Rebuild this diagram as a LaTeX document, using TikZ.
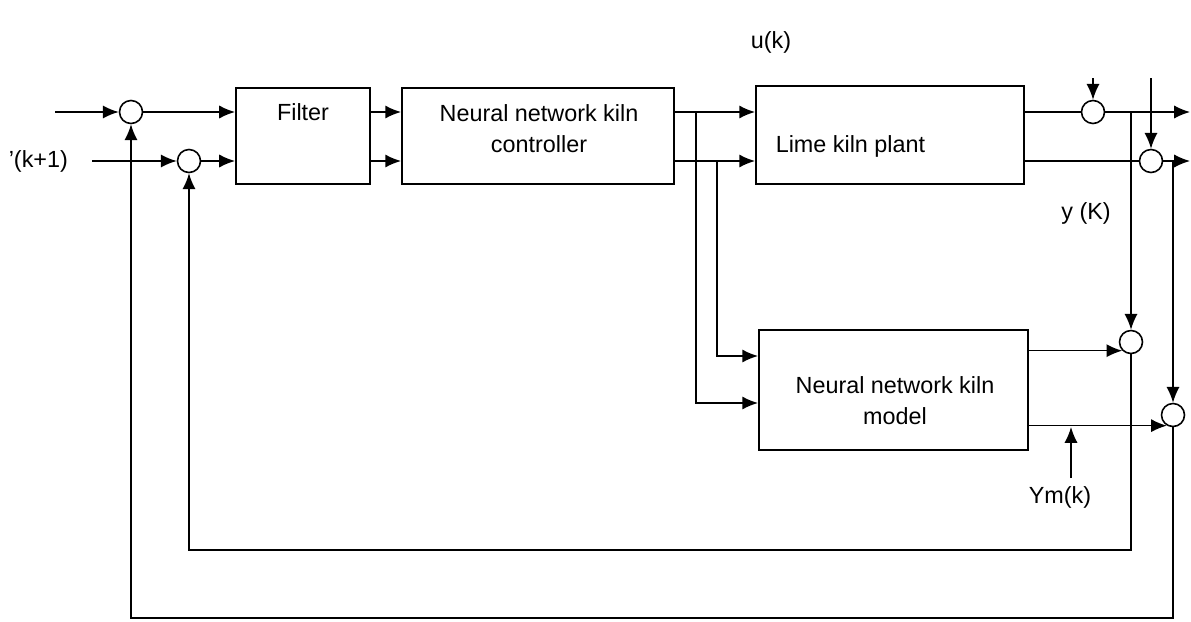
\documentclass[tikz,border=0pt]{standalone}
\usepackage{fontspec}
\setmainfont{Liberation Sans}
\usetikzlibrary{arrows.meta,positioning,calc}

\begin{document}
\begin{tikzpicture}[x=0.02cm,y=-0.02cm,line width=0.9pt,
		every node/.style={font=\fontsize{13.3pt}{17.6pt}\selectfont},
		sumpt/.style={draw,circle,minimum size=0.46cm,inner sep=0pt},
		blk/.style={draw,line width=1.1pt,rectangle,inner sep=0pt},
		txt/.style={inner sep=0pt,align=center},
		arr/.style={-{Latex[length=9pt,width=7.5pt]}}]
		\useasboundingbox (0,0) rectangle (1191,622);

		% blocks
		\node[blk,minimum width=2.68cm,minimum height=1.92cm] (filter) at (303,136) {};
		\node[blk,minimum width=5.44cm,minimum height=1.92cm] (ctrl) at (538,136) {};
		\node[blk,minimum width=5.36cm,minimum height=1.96cm] (plant) at (890,135) {};
		\node[blk,minimum width=5.38cm,minimum height=2.4cm] (model) at (893.5,390) {};

		\node[txt] (filtertxt) at (303,112.5) {Filter};
		\node[txt] (ctrltxt) at (539,128.5) {Neural network kiln\\controller};
		\node[txt,anchor=west] (planttxt) at (775,146) {Lime kiln plant};
		\node[txt] (modeltxt) at (895,400.5) {Neural network kiln\\model};

		% summing points
		\node[sumpt] (s1) at (131,112) {};
		\node[sumpt] (s2) at (189,161) {};
		\node[sumpt] (s3) at (1093,112) {};
		\node[sumpt] (s4) at (1151,161) {};
		\node[sumpt] (s5) at (1131,342) {};
		\node[sumpt] (s6) at (1173,415) {};

		\node[txt] (uk) at (771,42) {u(k)};
		\node[txt] (yk) at (1086,213) {y (K)};
		\node[txt] (ymk) at (1060,497) {Ym(k)};
		\node[txt,anchor=west] (rk) at (8,161) {'(k+1)};

		\coordinate (in1) at (55,112);
		\coordinate (in2) at (92,161);
		\coordinate (out1) at (1190,112);
		\coordinate (out2) at (1190,161);
		\coordinate (d1) at (1093,78);
		\coordinate (d2) at (1151,78);
		\coordinate (b1) at (696,112);
		\coordinate (b2) at (717,161);
		\coordinate (fb1) at (1131,550);
		\coordinate (fb2) at (1173,618);
		\coordinate (ymtail) at (1071,478);
		\coordinate (ymtip) at (1071,427);

		% forward path
		\draw[arr] (in1) -- (s1);
		\draw[arr] (in2) -- (s2);
		\draw[arr] (s1) -- (filter.west |- s1);
		\draw[arr] (s2) -- (filter.west |- s2);
		\draw[arr] (filter.east |- s1) -- (ctrl.west |- s1);
		\draw[arr] (filter.east |- s2) -- (ctrl.west |- s2);
		\draw[arr] (ctrl.east |- s1) -- (plant.west |- s1);
		\draw[arr] (ctrl.east |- s2) -- (plant.west |- s2);
		\draw[arr] (b2) |- ($(model.west)+(0,-34)$);
		\draw[arr] (b1) |- ($(model.west)+(0,13)$);

		\draw (plant.east |- s3) -- (s3);
		\draw[arr] (s3) -- (out1);
		\draw (plant.east |- s4) -- (s4);
		\draw[arr] (s4) -- (out2);
		\draw[arr] (d1) -- (s3);
		\draw[arr] (d2) -- (s4);

		% error signals
		\draw[arr] (s5 |- s3) -- (s5);
		\draw[arr] (s6 |- s4) -- (s6);
		\draw[arr] (model.east |- s5.225) -- (s5.225);
		\draw[arr] (model.east |- s6.240) -- (s6.240);
		\draw[arr] (ymtail) -- (ymtip);

		% feedback
		\draw[arr] (s5) -- (fb1) -| (s2);
		\draw[arr] (s6) -- (fb2) -| (s1);
\end{tikzpicture}
\end{document}
